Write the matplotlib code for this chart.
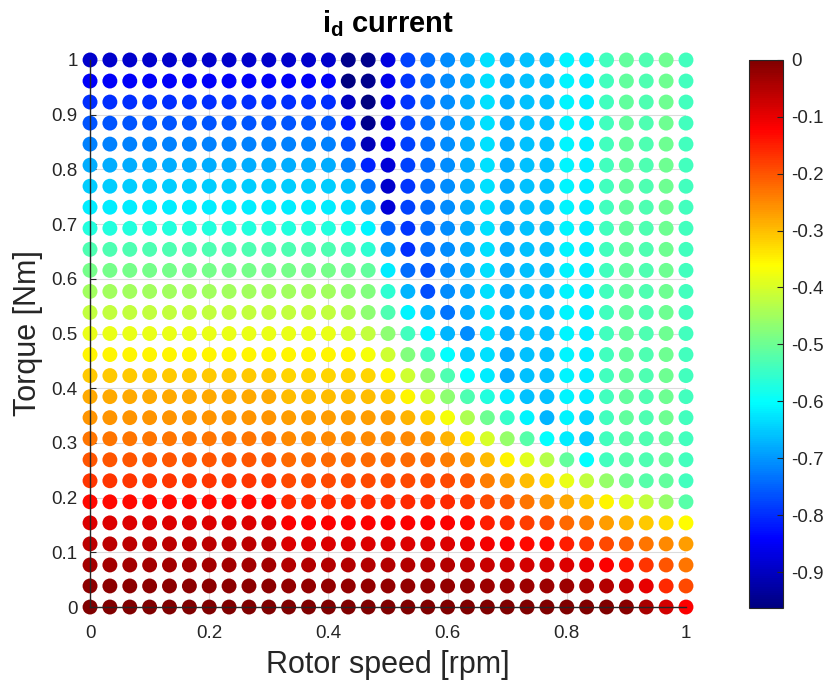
import numpy as np
import matplotlib
matplotlib.use('Agg')
import matplotlib.pyplot as plt
from matplotlib.colors import LinearSegmentedColormap

plt.rcParams['font.family'] = ['Liberation Sans', 'DejaVu Sans']
plt.rcParams['axes.unicode_minus'] = False
plt.rcParams['mathtext.fontset'] = 'custom'
plt.rcParams['mathtext.rm'] = 'Liberation Sans'
plt.rcParams['mathtext.bf'] = 'Liberation Sans:bold'

# operating grid (per unit)
speed_pu = [0.0, 0.0333, 0.0667, 0.1, 0.1333, 0.1667, 0.2, 0.2333, 0.2667, 0.3,
            0.3333, 0.3667, 0.4, 0.4333, 0.4667, 0.5, 0.5333, 0.5667, 0.6, 0.6333,
            0.6667, 0.7, 0.7333, 0.7667, 0.8, 0.8333, 0.8667, 0.9, 0.9333, 0.9667, 1.0]
torque_pu = [1.0, 0.9615, 0.9231, 0.8846, 0.8462, 0.8077, 0.7692, 0.7308, 0.6923,
             0.6538, 0.6154, 0.5769, 0.5385, 0.5, 0.4615, 0.4231, 0.3846, 0.3462,
             0.3077, 0.2692, 0.2308, 0.1923, 0.1538, 0.1154, 0.0769, 0.0385, 0.0]

# i_d for each torque row (top = 1.0), one value per speed column
fw_tail = [-0.63, -0.68, -0.66, -0.66, -0.61, -0.62, -0.54, -0.51, -0.53, -0.50, -0.54]
id_rows = [
    [-0.89] * 13 + [-0.95, -0.95, -0.87, -0.78, -0.74, -0.71, -0.68] + fw_tail,
    [-0.85] * 13 + [-0.96, -0.95, -0.86, -0.79, -0.74, -0.71, -0.68] + fw_tail,
    [-0.80] * 13 + [-0.90, -0.96, -0.86, -0.79, -0.74, -0.71, -0.68] + fw_tail,
    [-0.76] * 13 + [-0.82, -0.95, -0.87, -0.78, -0.74, -0.71, -0.68] + fw_tail,
    [-0.72] * 13 + [-0.77, -0.91, -0.86, -0.78, -0.74, -0.71, -0.68] + fw_tail,
    [-0.68] * 13 + [-0.72, -0.81, -0.88, -0.78, -0.74, -0.71, -0.68] + fw_tail,
    [-0.65] * 13 + [-0.66, -0.73, -0.89, -0.79, -0.74, -0.71, -0.68] + fw_tail,
    [-0.62] * 13 + [-0.63, -0.67, -0.88, -0.78, -0.74, -0.71, -0.68] + fw_tail,
    [-0.57] * 13 + [-0.58, -0.61, -0.75, -0.79, -0.74, -0.71, -0.68] + fw_tail,
    [-0.53] * 13 + [-0.54, -0.56, -0.69, -0.80, -0.74, -0.71, -0.68] + fw_tail,
    [-0.49] * 13 + [-0.50, -0.51, -0.62, -0.74, -0.77, -0.71, -0.68] + fw_tail,
    [-0.45] * 13 + [-0.47, -0.48, -0.56, -0.67, -0.77, -0.71, -0.68] + fw_tail,
    [-0.42] * 13 + [-0.44, -0.47, -0.53, -0.61, -0.67, -0.73, -0.68] + fw_tail,
    [-0.38] * 13 + [-0.40, -0.42, -0.47, -0.54, -0.61, -0.67, -0.71] + fw_tail,
    [-0.35] * 13 + [-0.35, -0.37, -0.41, -0.48, -0.54, -0.60, -0.65] + fw_tail,
    [-0.31] * 10 + [-0.32] * 5 + [-0.35, -0.41, -0.47, -0.53, -0.60, -0.62] + fw_tail[1:],
    [-0.28] * 10 + [-0.30] * 5 + [-0.31, -0.35, -0.41, -0.47, -0.53, -0.57,
                                  -0.62, -0.66, -0.66, -0.61, -0.62, -0.54, -0.51, -0.53, -0.50, -0.54],
    [-0.26] * 10 + [-0.27] * 6 + [-0.29, -0.32, -0.37, -0.44, -0.50,
                                  -0.55, -0.61, -0.67, -0.61, -0.64, -0.54, -0.51, -0.53, -0.50, -0.54],
    [-0.23] * 10 + [-0.25] * 7 + [-0.26, -0.29, -0.34, -0.40,
                                  -0.46, -0.52, -0.60, -0.62, -0.65, -0.54, -0.52, -0.53, -0.51, -0.54],
    [-0.20] * 10 + [-0.22] * 8 + [-0.24, -0.26, -0.30,
                                  -0.35, -0.39, -0.43, -0.51, -0.60, -0.54, -0.52, -0.53, -0.51, -0.54],
    [-0.17] * 10 + [-0.19] * 9 + [-0.20, -0.24,
                                  -0.27, -0.30, -0.33, -0.38, -0.42, -0.46, -0.50, -0.52, -0.51, -0.54],
    [-0.13] * 10 + [-0.16] * 9 + [-0.17, -0.19,
                                  -0.20, -0.23, -0.26, -0.28, -0.31, -0.35, -0.39, -0.42, -0.46, -0.52],
    [-0.09] * 10 + [-0.12] * 9 + [-0.13, -0.15,
                                  -0.16, -0.18, -0.19, -0.22, -0.24, -0.27, -0.29, -0.31, -0.33, -0.36],
    [-0.06] * 10 + [-0.09] * 9 + [-0.10, -0.11,
                                  -0.12, -0.13, -0.13, -0.15, -0.17, -0.19, -0.21, -0.23, -0.25, -0.27],
    [-0.035] * 10 + [-0.05] * 9 + [-0.06, -0.07,
                                   -0.075, -0.08, -0.08, -0.09, -0.10, -0.12, -0.14, -0.17, -0.20, -0.23],
    [-0.015] * 10 + [-0.02] * 9 + [-0.02, -0.03,
                                   -0.03, -0.03, -0.03, -0.03, -0.04, -0.05, -0.07, -0.10, -0.16, -0.19],
    [0.0] * 27 + [-0.01, -0.04, -0.08, -0.12],
]

x_ticks = [0, 0.2, 0.4, 0.6, 0.8, 1]
y_ticks = [0, 0.1, 0.2, 0.3, 0.4, 0.5, 0.6, 0.7, 0.8, 0.9, 1]
cbar_ticks = [0, -0.1, -0.2, -0.3, -0.4, -0.5, -0.6, -0.7, -0.8, -0.9]

# classic jet
jet = LinearSegmentedColormap.from_list(
    'jet_classic',
    [(0.0, (0, 0, 0.5)), (0.125, (0, 0, 1)), (0.375, (0, 1, 1)),
     (0.625, (1, 1, 0)), (0.875, (1, 0, 0)), (1.0, (0.5, 0, 0))], N=256)

X, Y = np.meshgrid(speed_pu, torque_pu)
Z = np.array(id_rows)

txt = (0.15, 0.15, 0.15)

fig = plt.figure(figsize=(8.26, 6.87), dpi=100)
ax = fig.add_axes([0.109, 0.1164, 0.7215, 0.7963])
ax.grid(True, color='#dcdcdc', linewidth=0.8)
ax.set_axisbelow(True)

sc = ax.scatter(X.ravel(), Y.ravel(), c=Z.ravel(), cmap=jet, vmin=-0.963, vmax=0,
                s=115, linewidths=0, clip_on=False, zorder=2)

ax.set_xlim(0, 1)
ax.set_ylim(0, 1)
ax.set_xticks(x_ticks)
ax.set_xticklabels(['%g' % t for t in x_ticks])
ax.set_yticks(y_ticks)
ax.set_yticklabels(['%g' % t for t in y_ticks])
for side in ['top', 'right']:
    ax.spines[side].set_visible(False)
for side in ['left', 'bottom']:
    ax.spines[side].set_color(txt)
    ax.spines[side].set_linewidth(1.0)
ax.tick_params(direction='in', length=4, colors=txt, labelsize=13.5)
ax.tick_params(axis='x', pad=13)
ax.tick_params(axis='y', pad=9)

ax.set_title(r'$\mathbf{i}_{\mathbf{d}}$ current', fontsize=21, fontweight='bold', pad=20)
ax.set_xlabel('Rotor speed [rpm]', fontsize=22, color=txt, labelpad=6)
ax.set_ylabel('Torque [Nm]', fontsize=22, color=txt, labelpad=6)

cax = fig.add_axes([0.907, 0.115, 0.041, 0.798])
cb = fig.colorbar(sc, cax=cax)
cb.set_ticks(cbar_ticks)
cb.set_ticklabels(['%g' % t for t in cbar_ticks])
cb.outline.set_edgecolor(txt)
cb.outline.set_linewidth(0.8)
cb.ax.tick_params(direction='in', length=4, colors=txt, labelsize=13.5, pad=6)

fig.savefig('out.png', dpi=100)
